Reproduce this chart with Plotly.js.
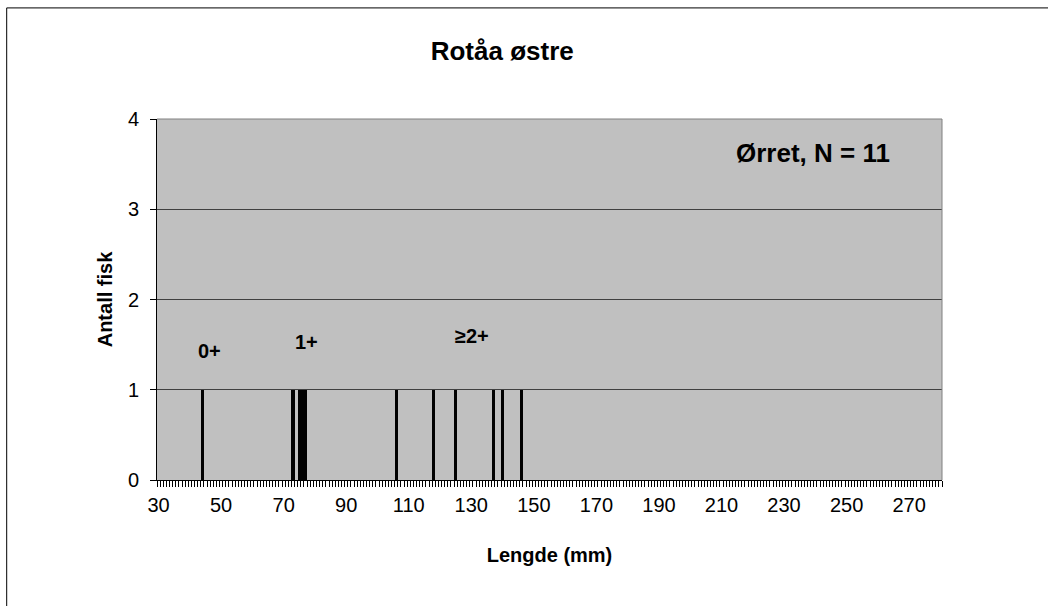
<!DOCTYPE html>
<html>
<head>
<meta charset="utf-8">
<script src="https://cdn.plot.ly/plotly-3.0.1.min.js"></script>
<style>
html,body{margin:0;padding:0;background:#fff;}
#chart{width:1048px;height:606px;}
</style>
</head>
<body>
<div id="chart"></div>
<script>
// Data (fish lengths in mm, each a count of fish)
const lengths = [44, 73, 75, 76, 77, 106, 118, 125, 137, 140, 146];
const counts  = [1, 1, 1, 1, 1, 1, 1, 1, 1, 1, 1];
const xTickVals = [30, 50, 70, 90, 110, 130, 150, 170, 190, 210, 230, 250, 270];
const xTickText = ["30","50","70","90","110","130","150","170","190","210","230","250","270"];
const yTickVals = [0, 1, 2, 3, 4];
const ageLabels = ["0+", "1+", "≥2+"];
const chartTitle = "Rotåa østre";
const speciesLabel = "Ørret, N = 11";
const xTitle = "Lengde (mm)";
const yTitle = "Antall fisk";

const FONT = "Liberation Sans, Arial, Helvetica, sans-serif";

// Layout geometry (pixels)
const W = 1048, H = 606;
const L = 157.3, R = 942.3, T = 119.3, B = 480;
const pw = R - L, ph = B - T;
const px = v => (v - L) / pw;
const py = v => (B - v) / ph;

const trace = {
  type: 'bar',
  x: lengths,
  y: counts,
  marker: {color: '#000000', line: {width: 0}},
  width: 1,
  hoverinfo: 'x+y'
};

// positions of age-group labels (pixel centres)
const agePos = [[210, 351], [306.7, 341.7], [472, 336]];

const annotations = ageLabels.map((t, i) => ({
  text: '<b>' + t + '</b>',
  xref: 'paper', yref: 'paper',
  x: px(agePos[i][0]), y: py(agePos[i][1]),
  xanchor: 'center', yanchor: 'middle',
  showarrow: false,
  font: {family: FONT, size: 20, color: '#000'}
}));
annotations.push({
  text: '<b>' + speciesLabel + '</b>',
  xref: 'paper', yref: 'paper',
  x: px(813), y: py(153.7),
  xanchor: 'center', yanchor: 'middle',
  showarrow: false,
  font: {family: FONT, size: 26, color: '#000'}
});

const layout = {
  width: W, height: H,
  margin: {l: L, r: W - R, t: T, b: H - B, pad: 0},
  paper_bgcolor: '#ffffff',
  plot_bgcolor: '#c0c0c0',
  showlegend: false,
  bargap: 0,
  title: {
    text: '<b>' + chartTitle + '</b>',
    xref: 'paper', yref: 'container',
    x: px(502.5), xanchor: 'center',
    y: 1 - 51 / H, yanchor: 'middle',
    font: {family: FONT, size: 26, color: '#000'}
  },
  xaxis: {
    type: 'linear',
    range: [29.5, 280.5],
    tickmode: 'array',
    tickvals: xTickVals,
    ticktext: xTickText,
    ticks: '',
    showgrid: false,
    zeroline: false,
    showline: true, linecolor: '#000', linewidth: 1,
    tickfont: {family: FONT, size: 20, color: '#000'},
    ticklabelstandoff: 7,
    minor: {ticks: 'outside', tick0: 29.5, dtick: 1, ticklen: 6, tickcolor: '#000', tickwidth: 1, showgrid: false},
    title: {text: '<b>' + xTitle + '</b>', font: {family: FONT, size: 20, color: '#000'}, standoff: 32},
    fixedrange: true
  },
  yaxis: {
    range: [0, 4],
    tickmode: 'array',
    tickvals: yTickVals,
    ticks: 'outside', ticklen: 6, tickcolor: '#000', tickwidth: 1,
    showgrid: true, gridcolor: '#404040', gridwidth: 1,
    zeroline: false,
    showline: true, linecolor: '#000', linewidth: 1,
    tickfont: {family: FONT, size: 20, color: '#000'},
    ticklabelstandoff: 7,
    title: {text: '<b>' + yTitle + '</b>', font: {family: FONT, size: 20, color: '#000'}, standoff: 9},
    fixedrange: true
  },
  annotations: annotations,
  shapes: [
    // plot-area border (top and right), grey
    {type: 'line', xref: 'paper', yref: 'paper', x0: 0, x1: 1, y0: 1, y1: 1, line: {color: '#808080', width: 1}, layer: 'above'},
    {type: 'line', xref: 'paper', yref: 'paper', x0: 1, x1: 1, y0: 0, y1: 1, line: {color: '#808080', width: 1}, layer: 'above'},
    // chart-area border (left and top visible)
    {type: 'line', xref: 'paper', yref: 'paper', x0: px(7), x1: px(7), y0: py(8.3), y1: py(620), line: {color: '#000', width: 1}, layer: 'above'},
    {type: 'line', xref: 'paper', yref: 'paper', x0: px(7), x1: px(1060), y0: py(8.3), y1: py(8.3), line: {color: '#000', width: 1}, layer: 'above'}
  ]
};

Plotly.newPlot('chart', [trace], layout, {displayModeBar: false, staticPlot: true});
</script>
</body>
</html>
